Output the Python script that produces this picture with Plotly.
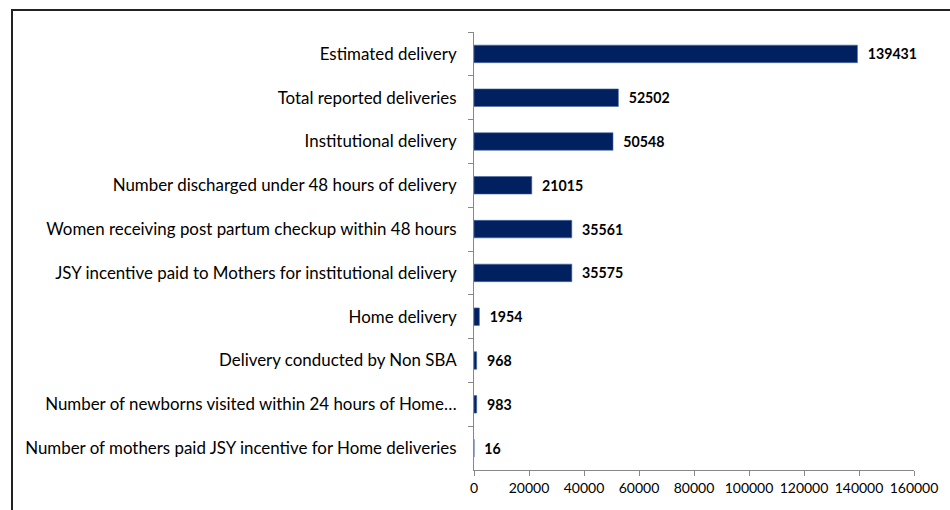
import plotly.graph_objects as go

categories = [
    "Estimated delivery",
    "Total reported deliveries",
    "Institutional delivery",
    "Number discharged under 48 hours of delivery",
    "Women receiving post partum checkup within 48 hours",
    "JSY incentive paid to Mothers for institutional delivery",
    "Home delivery",
    "Delivery conducted by Non SBA",
    "Number of newborns visited within 24 hours of Home…",
    "Number of mothers paid JSY incentive for Home deliveries",
]
values = [139431, 52502, 50548, 21015, 35561, 35575, 1954, 968, 983, 16]
x_ticks = [0, 20000, 40000, 60000, 80000, 100000, 120000, 140000, 160000]

W, H = 950, 510
L, R, T, B = 474, 36, 32, 40
pw, ph = W - L - R, H - T - B

fig = go.Figure(go.Bar(
    x=values, y=categories, orientation="h",
    marker=dict(color="#002060", line=dict(color="#4a6aa8", width=0.6)),
    text=[f"\u00a0\u00a0<b>{v}</b>" for v in values],
    textposition="outside",
    textfont=dict(family="Lato", size=17, color="black"),
    cliponaxis=False,
    width=0.4,
))

fig.update_layout(
    width=W, height=H,
    margin=dict(l=L, r=R, t=T, b=B, autoexpand=False),
    paper_bgcolor="white", plot_bgcolor="white",
    font=dict(family="Lato", size=16.9, color="black"),
    showlegend=False,
    xaxis=dict(
        range=[0, 160000], tickvals=x_ticks, ticktext=[str(t) for t in x_ticks],
        showgrid=False, zeroline=False, showline=True, linecolor="#888888", linewidth=1,
        ticks="outside", ticklen=5, tickcolor="#888888", automargin=False,
        tickfont=dict(family="Lato", size=14),
    ),
    yaxis=dict(
        autorange="reversed", showgrid=False, showline=True, linecolor="#888888", linewidth=1,
        ticks="outside", ticklen=5, tickcolor="#888888", tickson="boundaries",
        automargin=False, ticklabelstandoff=13,
    ),
    shapes=[dict(
        type="rect", xref="paper", yref="paper",
        x0=(12 - L) / pw, x1=(W + 10 - L) / pw,
        y0=(H - B - (H + 10)) / ph, y1=(H - B - 10) / ph,
        line=dict(color="#222222", width=2), fillcolor="rgba(0,0,0,0)",
    )],
)

fig.write_html(
    "out.html",
    config={"displayModeBar": False},
    post_script="document.body.style.margin='0';document.body.style.overflow='hidden';",
)
